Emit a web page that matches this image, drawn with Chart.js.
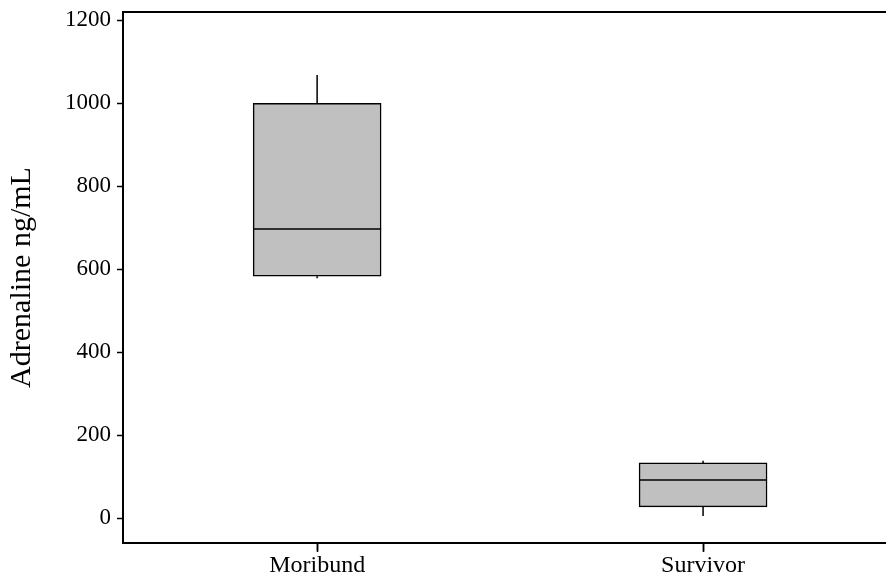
<!DOCTYPE html>
<html>
<head>
<meta charset="utf-8">
<script src="https://cdn.jsdelivr.net/npm/chart.js@4"></script>
<style>
  html, body { margin: 0; padding: 0; background: #fff; }
  #wrap { width: 886px; height: 582px; }
</style>
</head>
<body>
<div id="wrap"><canvas id="boxChart" width="886" height="582"></canvas></div>
<script>
const categories = ["Moribund", "Survivor"];
const whiskerLow = [578, 5];
const q1 = [583, 27];
const median = [697, 92];
const q3 = [1000, 133];
const whiskerHigh = [1068, 138];
const yTicks = [0, 200, 400, 600, 800, 1000, 1200];

const serif = "'Liberation Serif', 'DejaVu Serif', serif";

const boxPlugin = {
  id: "boxExtras",
  afterDatasetsDraw(chart) {
    const ctx = chart.ctx;
    const xs = chart.scales.x;
    const ys = chart.scales.y;
    const meta = chart.getDatasetMeta(0);
    const area = chart.chartArea;
    ctx.save();
    ctx.strokeStyle = "#000";
    ctx.lineWidth = 1.5;
    categories.forEach((c, i) => {
      const x = xs.getPixelForValue(i);
      const half = meta.data[i].width / 2;
      ctx.beginPath();
      ctx.moveTo(x, ys.getPixelForValue(whiskerHigh[i]));
      ctx.lineTo(x, ys.getPixelForValue(q3[i]));
      ctx.moveTo(x, ys.getPixelForValue(q1[i]));
      ctx.lineTo(x, ys.getPixelForValue(whiskerLow[i]));
      ctx.moveTo(x - half, ys.getPixelForValue(median[i]));
      ctx.lineTo(x + half, ys.getPixelForValue(median[i]));
      // category tick mark below the axis
      ctx.moveTo(Math.round(x) + 0.5, area.bottom);
      ctx.lineTo(Math.round(x) + 0.5, area.bottom + 9);
      ctx.stroke();
    });
    // top frame line
    ctx.lineWidth = 2;
    ctx.beginPath();
    ctx.moveTo(area.left - 1, area.top);
    ctx.lineTo(area.right, area.top);
    ctx.stroke();
    ctx.restore();
  },
};

const ctx = document.getElementById("boxChart").getContext("2d");
new Chart(ctx, {
  type: "bar",
  data: {
    datasets: [
      {
        data: categories.map((c, i) => ({ x: i, y: [q1[i], q3[i]] })),
        backgroundColor: "#c0c0c0",
        borderColor: "#000",
        borderWidth: 1.5,
        borderSkipped: false,
        barThickness: 128,
      },
    ],
  },
  options: {
    responsive: false,
    animation: false,
    devicePixelRatio: 1,
    layout: { padding: { top: 12, right: 0, left: 0, bottom: 0 } },
    scales: {
      x: {
        type: "linear",
        offset: false,
        min: -0.503,
        max: 1.474,
        grid: {
          display: true,
          offset: false,
          drawOnChartArea: false,
          drawTicks: true,
          tickLength: 8,
          tickColor: "#000",
          tickWidth: 1.5,
        },
        border: { display: true, color: "#000", width: 2 },
        afterBuildTicks: (scale) => {
          scale.ticks = [{ value: 0 }, { value: 1 }];
        },
        afterFit: (scale) => {
          scale.height = 39;
          scale.paddingLeft = 0;
          scale.paddingRight = 0;
        },
        ticks: {
          color: "#000",
          padding: 0,
          maxRotation: 0,
          font: { family: serif, size: 24 },
          callback: (v) => categories[v] ?? "",
        },
      },
      y: {
        min: -60,
        max: 1220,
        grid: {
          display: true,
          drawOnChartArea: false,
          drawTicks: true,
          tickLength: 6,
          tickColor: "#000",
          tickWidth: 1.5,
        },
        border: { display: true, color: "#000", width: 2 },
        afterBuildTicks: (scale) => {
          scale.ticks = yTicks.map((v) => ({ value: v }));
        },
        afterFit: (scale) => {
          scale.width = 123;
          scale.paddingTop = 0;
          scale.paddingBottom = 0;
        },
        title: {
          display: true,
          text: "Adrenaline ng/mL",
          color: "#000",
          font: { family: serif, size: 30 },
          padding: { top: 4, bottom: 0 },
        },
        ticks: {
          color: "#000",
          padding: 6,
          font: { family: serif, size: 23 },
          callback: (v) => String(v),
        },
      },
    },
    plugins: {
      legend: { display: false },
      tooltip: { enabled: false },
    },
  },
  plugins: [boxPlugin],
});
</script>
</body>
</html>
